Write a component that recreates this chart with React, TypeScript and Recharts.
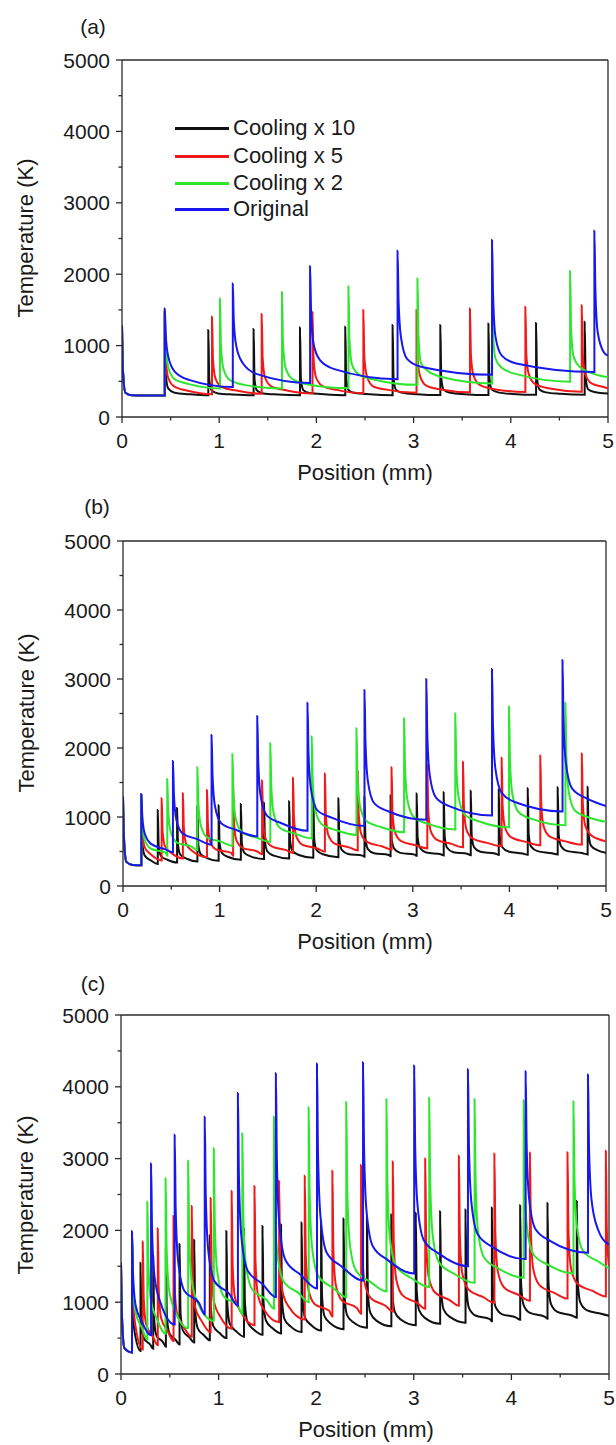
import React from 'react';
import { LineChart, Line, XAxis, YAxis, ReferenceLine } from 'recharts';

// ---------- data ----------
const X_TICKS = [0, 0.5, 1, 1.5, 2, 2.5, 3, 3.5, 4, 4.5, 5];
const X_LABELED = [0, 1, 2, 3, 4, 5];
const Y_TICKS = [0, 500, 1000, 1500, 2000, 2500, 3000, 3500, 4000, 4500, 5000];
const Y_LABELED = [0, 1000, 2000, 3000, 4000, 5000];
const X_MAX = 5;
const Y_MAX = 5000;

const SERIES_NAMES = ['Cooling x 10', 'Cooling x 5', 'Cooling x 2', 'Original'];
const PANEL_LETTERS = ['(a)', '(b)', '(c)'];
const X_TITLE = 'Position (mm)';
const Y_TITLE = 'Temperature (K)';

// distance (mm) after each spike at which the listed decay temperatures are read
const DECAY_OFFSETS = [0.01, 0.035, 0.1, 0.25];

// each spike: [position mm, peak K, decay values at DECAY_OFFSETS..., value just before next spike]
const START_A = [0, 1280, 650, 340, 305, 300, 300];
const BLACK_A = [
  [0.44, 1460, 600, 400, 340, 320, 305],
  [0.888, 1217, 520, 370, 330, 315, 305],
  [1.354, 1231, 520, 370, 330, 315, 305],
  [1.831, 1254, 530, 375, 335, 318, 305],
  [2.297, 1263, 530, 375, 335, 318, 306],
  [2.784, 1287, 540, 380, 340, 320, 307],
  [3.275, 1287, 540, 380, 340, 320, 308],
  [3.77, 1310, 550, 385, 345, 322, 310],
  [4.26, 1317, 550, 385, 345, 325, 312],
  [4.76, 1333, 560, 390, 350, 330, 328],
];
const RED_A = [
  [0.44, 1480, 840, 550, 425, 365, 320],
  [0.926, 1403, 810, 540, 420, 370, 325],
  [1.437, 1441, 830, 550, 430, 375, 330],
  [1.96, 1470, 845, 560, 437, 380, 335],
  [2.483, 1497, 850, 580, 430, 380, 340],
  [3.03, 1497, 850, 580, 440, 385, 345],
  [3.58, 1520, 860, 590, 450, 390, 350],
  [4.15, 1543, 870, 600, 460, 400, 355],
  [4.73, 1566, 880, 610, 470, 410, 400],
];
const GREEN_A = [
  [0.44, 1500, 1000, 700, 530, 460, 400],
  [1.008, 1660, 1000, 680, 520, 450, 400],
  [1.646, 1750, 1050, 700, 540, 460, 405],
  [2.33, 1830, 1100, 740, 600, 530, 450],
  [3.04, 1940, 1150, 760, 650, 560, 470],
  [3.807, 1990, 1200, 820, 690, 600, 495],
  [4.61, 2046, 1250, 850, 700, 600, 555],
];
const BLUE_A = [
  [0.44, 1520, 1150, 850, 640, 520, 420],
  [1.14, 1870, 1350, 1000, 760, 600, 475],
  [1.935, 2110, 1500, 1030, 800, 670, 530],
  [2.835, 2330, 1650, 1120, 810, 700, 590],
  [3.807, 2480, 1750, 1130, 860, 750, 630],
  [4.86, 2610, 1800, 1180, 900, 780, 860],
];

const START_B = [0, 1300, 700, 350, 305, 300, 300];
const BLACK_B = [
  [0.19, 1330, 620, 440, 370, 340, 320],
  [0.36, 1100, 570, 430, 380, 355, 340],
  [0.56, 1130, 590, 450, 395, 370, 355],
  [0.77, 1150, 600, 460, 405, 380, 365],
  [0.99, 1170, 620, 475, 420, 395, 380],
  [1.22, 1190, 630, 485, 430, 405, 390],
  [1.46, 1210, 645, 500, 440, 415, 400],
  [1.72, 1230, 655, 510, 450, 425, 410],
  [1.97, 1250, 670, 520, 460, 435, 418],
  [2.23, 1270, 680, 525, 465, 440, 425],
  [2.5, 1290, 690, 535, 475, 450, 432],
  [2.77, 1310, 700, 545, 480, 455, 438],
  [3.04, 1340, 710, 550, 485, 460, 442],
  [3.32, 1360, 720, 555, 490, 465, 446],
  [3.6, 1380, 730, 560, 495, 470, 450],
  [3.89, 1400, 735, 565, 500, 470, 452],
  [4.19, 1415, 745, 570, 505, 475, 455],
  [4.5, 1430, 750, 575, 505, 478, 458],
  [4.81, 1440, 760, 585, 520, 490, 480],
];
const RED_B = [
  [0.19, 1330, 800, 560, 455, 410, 370],
  [0.4, 1271, 790, 575, 480, 435, 400],
  [0.62, 1344, 835, 605, 505, 455, 420],
  [0.87, 1390, 870, 630, 525, 480, 440],
  [1.14, 1450, 905, 660, 550, 500, 460],
  [1.44, 1530, 950, 690, 575, 520, 480],
  [1.76, 1570, 980, 715, 595, 545, 500],
  [2.09, 1630, 1020, 740, 615, 560, 515],
  [2.43, 1670, 1045, 760, 635, 575, 530],
  [2.78, 1720, 1075, 780, 650, 590, 545],
  [3.15, 1760, 1100, 800, 670, 610, 560],
  [3.52, 1800, 1125, 820, 685, 625, 575],
  [3.92, 1860, 1160, 845, 705, 640, 590],
  [4.32, 1890, 1180, 860, 715, 650, 600],
  [4.75, 1920, 1200, 875, 730, 670, 650],
];
const GREEN_B = [
  [0.19, 1330, 930, 670, 540, 485, 440],
  [0.458, 1551, 1090, 790, 630, 570, 520],
  [0.77, 1720, 1210, 880, 705, 640, 580],
  [1.133, 1914, 1340, 970, 780, 700, 640],
  [1.525, 2068, 1450, 1050, 840, 760, 690],
  [1.954, 2165, 1520, 1110, 900, 810, 740],
  [2.417, 2285, 1610, 1170, 945, 855, 780],
  [2.91, 2430, 1710, 1240, 1000, 900, 820],
  [3.44, 2503, 1760, 1280, 1030, 935, 850],
  [3.996, 2600, 1830, 1330, 1070, 965, 880],
  [4.58, 2657, 1870, 1360, 1090, 990, 930],
];
const BLUE_B = [
  [0.19, 1330, 1000, 760, 610, 530, 490],
  [0.517, 1812, 1330, 960, 760, 680, 600],
  [0.917, 2189, 1600, 1160, 910, 815, 720],
  [1.39, 2464, 1800, 1300, 1020, 910, 800],
  [1.91, 2657, 1940, 1410, 1100, 990, 870],
  [2.5, 2841, 2090, 1520, 1200, 1080, 960],
  [3.14, 3000, 2210, 1610, 1280, 1150, 1020],
  [3.82, 3145, 2320, 1700, 1350, 1210, 1080],
  [4.55, 3276, 2420, 1780, 1410, 1270, 1160],
];

const START_C = [0, 1550, 800, 360, 305, 300, 300];
const BLACK_C = [
  [0.113, 1983, 820, 520, 400, 360, 320],
  [0.2, 1550, 710, 495, 410, 375, 350],
  [0.33, 1650, 760, 530, 445, 405, 380],
  [0.46, 1740, 810, 570, 475, 435, 410],
  [0.6, 1810, 850, 605, 510, 470, 440],
  [0.75, 1870, 890, 640, 540, 500, 470],
  [0.91, 1930, 930, 670, 570, 530, 500],
  [1.08, 1990, 960, 700, 595, 550, 520],
  [1.26, 2030, 990, 725, 620, 575, 545],
  [1.45, 2060, 1015, 745, 640, 595, 565],
  [1.64, 2085, 1035, 765, 660, 615, 585],
  [1.85, 2110, 1055, 785, 680, 635, 605],
  [2.05, 2140, 1080, 805, 700, 655, 625],
  [2.28, 2165, 1100, 825, 720, 675, 645],
  [2.52, 2190, 1125, 850, 740, 695, 665],
  [2.77, 2220, 1140, 865, 755, 710, 680],
  [3.02, 2245, 1165, 885, 775, 730, 700],
  [3.27, 2265, 1180, 900, 795, 745, 715],
  [3.53, 2290, 1200, 920, 815, 765, 735],
  [3.8, 2320, 1225, 945, 835, 785, 755],
  [4.09, 2350, 1245, 960, 850, 800, 770],
  [4.37, 2380, 1265, 975, 865, 815, 785],
  [4.67, 2410, 1290, 1000, 890, 840, 810],
];
const RED_C = [
  [0.113, 1983, 1080, 670, 490, 420, 340],
  [0.223, 1846, 1050, 690, 530, 460, 400],
  [0.377, 2030, 1165, 775, 600, 525, 460],
  [0.538, 2200, 1275, 855, 670, 590, 520],
  [0.725, 2340, 1370, 930, 740, 650, 580],
  [0.919, 2450, 1450, 995, 795, 705, 630],
  [1.134, 2550, 1520, 1055, 850, 755, 680],
  [1.368, 2620, 1575, 1100, 890, 795, 720],
  [1.62, 2690, 1630, 1145, 935, 840, 760],
  [1.883, 2760, 1680, 1190, 975, 880, 800],
  [2.166, 2830, 1735, 1240, 1020, 920, 840],
  [2.46, 2910, 1790, 1280, 1055, 950, 870],
  [2.785, 2960, 1835, 1320, 1095, 990, 910],
  [3.117, 3000, 1875, 1360, 1135, 1030, 950],
  [3.462, 3040, 1910, 1400, 1175, 1070, 990],
  [3.826, 3070, 1945, 1430, 1205, 1100, 1020],
  [4.19, 3085, 1965, 1455, 1235, 1130, 1050],
  [4.575, 3090, 1985, 1480, 1260, 1160, 1080],
  [4.968, 3110, 2000, 1500],
];
const GREEN_C = [
  [0.113, 1983, 1310, 870, 645, 555, 480],
  [0.27, 2400, 1570, 1040, 760, 650, 560],
  [0.457, 2726, 1790, 1180, 870, 745, 640],
  [0.688, 2971, 1970, 1320, 985, 850, 740],
  [0.951, 3143, 2100, 1430, 1085, 945, 830],
  [1.243, 3354, 2250, 1545, 1180, 1030, 910],
  [1.567, 3583, 2420, 1670, 1285, 1130, 1000],
  [1.923, 3714, 2525, 1760, 1360, 1200, 1070],
  [2.308, 3789, 2600, 1835, 1440, 1280, 1150],
  [2.72, 3829, 2650, 1890, 1500, 1340, 1210],
  [3.158, 3846, 2690, 1940, 1555, 1400, 1270],
  [3.623, 3829, 2710, 1990, 1615, 1465, 1340],
  [4.126, 3811, 2725, 2025, 1665, 1520, 1400],
  [4.636, 3800, 2740, 2060, 1710, 1570, 1470],
];
const BLUE_C = [
  [0.113, 1983, 1400, 970, 730, 635, 540],
  [0.308, 2931, 2030, 1360, 980, 835, 690],
  [0.55, 3331, 2330, 1580, 1155, 990, 830],
  [0.858, 3583, 2530, 1740, 1290, 1120, 950],
  [1.198, 3914, 2780, 1920, 1440, 1255, 1070],
  [1.587, 4189, 2990, 2090, 1580, 1385, 1190],
  [2.008, 4326, 3120, 2210, 1690, 1500, 1300],
  [2.48, 4343, 3170, 2280, 1780, 1590, 1400],
  [3.004, 4297, 3180, 2340, 1860, 1680, 1500],
  [3.555, 4246, 3190, 2390, 1945, 1770, 1600],
  [4.146, 4217, 3210, 2450, 2020, 1855, 1690],
  [4.785, 4171, 3180, 2440, 2020, 1900, 1800],
];

const PANEL_DATA = [
  { start: START_A, series: [BLACK_A, RED_A, GREEN_A, BLUE_A] },
  { start: START_B, series: [BLACK_B, RED_B, GREEN_B, BLUE_B] },
  { start: START_C, series: [BLACK_C, RED_C, GREEN_C, BLUE_C] },
];

// ---------- styles / layout ----------
const FONT = '"Liberation Sans", Arial, Helvetica, sans-serif';
const TEXT = '#1a1a1a';
const AXIS = '#2a2a2a';
const COLORS = ['#111111', '#f01a1a', '#2ee62e', '#1818ee'];

const LAYOUT = [
  { top: 0, height: 480, margin: { top: 60, right: 8, bottom: 23, left: 42 }, letter: [93, 26], xTitle: [365, 473], yTitle: [26, 238] },
  { top: 480, height: 480, margin: { top: 61, right: 10, bottom: 34, left: 43 }, letter: [97, 506], xTitle: [365, 942], yTitle: [27, 713] },
  { top: 960, height: 485, margin: { top: 55, right: 7, bottom: 31, left: 41 }, letter: [93, 983], xTitle: [366, 1430], yTitle: [26, 1195] },
];
const LEGEND = { lineX1: 175, lineX2: 229, textX: 233, rows: [128, 156, 183, 209] };

// ---------- helpers ----------
function buildSeries(start: number[], spikes: number[][]) {
  const all = [start, ...spikes];
  const pts: { x: number; t: number }[] = [];
  all.forEach((s, i) => {
    const x0 = s[0];
    const next = i + 1 < all.length ? all[i + 1][0] : X_MAX;
    pts.push({ x: x0, t: s[1] });
    s.slice(2, -1).forEach((v, j) => {
      const xo = x0 + DECAY_OFFSETS[j];
      if (xo < next - 0.015) pts.push({ x: +xo.toFixed(4), t: v });
    });
    pts.push({ x: next, t: s[s.length - 1] });
  });
  return pts;
}

const YTick = (props: any) => {
  const { x, y, payload } = props;
  const major = Y_LABELED.includes(payload.value);
  return (
    <g>
      <line x1={x} x2={x - (major ? 6 : 3.5)} y1={y} y2={y} stroke={AXIS} strokeWidth={1.3} />
      {major && (
        <text x={x - 12} y={y} dy="0.36em" textAnchor="end" fontSize={21} fontFamily={FONT} fill={TEXT}>
          {payload.value}
        </text>
      )}
    </g>
  );
};

const XTick = (props: any) => {
  const { x, y, payload } = props;
  const major = X_LABELED.includes(payload.value);
  return (
    <g>
      <line x1={x} x2={x} y1={y} y2={y + (major ? 6 : 3.5)} stroke={AXIS} strokeWidth={1.3} />
      {major && (
        <text x={x} y={y + 31} textAnchor="middle" fontSize={21} fontFamily={FONT} fill={TEXT}>
          {payload.value}
        </text>
      )}
    </g>
  );
};

const abs = (x: number, y: number, extra: React.CSSProperties = {}): React.CSSProperties => ({
  position: 'absolute',
  left: x,
  top: y,
  transform: 'translate(-50%, -50%)',
  whiteSpace: 'nowrap',
  fontFamily: FONT,
  color: TEXT,
  lineHeight: 1,
  ...extra,
});

function Panel({ idx }: { idx: number }) {
  const L = LAYOUT[idx];
  const D = PANEL_DATA[idx];
  return (
    <>
      <div style={{ position: 'absolute', left: 0, top: L.top }}>
        <LineChart width={616} height={L.height} margin={L.margin}>
          <XAxis
            type="number"
            dataKey="x"
            domain={[0, X_MAX]}
            ticks={X_TICKS}
            interval={0}
            height={40}
            tickSize={0}
            tickMargin={0}
            tickLine={false}
            tick={XTick}
            axisLine={{ stroke: AXIS, strokeWidth: 1.3 }}
            allowDataOverflow
          />
          <YAxis
            type="number"
            domain={[0, Y_MAX]}
            ticks={Y_TICKS}
            interval={0}
            width={80}
            tickSize={0}
            tickMargin={0}
            tickLine={false}
            tick={YTick}
            axisLine={{ stroke: AXIS, strokeWidth: 1.3 }}
            allowDataOverflow
          />
          <ReferenceLine y={Y_MAX} stroke={AXIS} strokeWidth={1.3} />
          <ReferenceLine x={X_MAX} stroke={AXIS} strokeWidth={1.3} />
          {D.series.map((s, i) => (
            <Line
              key={SERIES_NAMES[i]}
              name={SERIES_NAMES[i]}
              data={buildSeries(D.start, s)}
              dataKey="t"
              type="monotoneX"
              stroke={COLORS[i]}
              strokeWidth={2}
              dot={false}
              activeDot={false}
              isAnimationActive={false}
            />
          ))}
        </LineChart>
      </div>
      <div style={abs(L.letter[0], L.letter[1], { fontSize: 21 })}>{PANEL_LETTERS[idx]}</div>
      <div style={abs(L.xTitle[0], L.xTitle[1], { fontSize: 22 })}>{X_TITLE}</div>
      <div style={abs(L.yTitle[0], L.yTitle[1], { fontSize: 22, transform: 'translate(-50%, -50%) rotate(-90deg)' })}>
        {Y_TITLE}
      </div>
      {idx === 0 &&
        SERIES_NAMES.map((n, i) => (
          <React.Fragment key={n}>
            <div
              style={{
                position: 'absolute',
                left: LEGEND.lineX1,
                top: LEGEND.rows[i] - 1.5,
                width: LEGEND.lineX2 - LEGEND.lineX1,
                height: 3,
                background: COLORS[i],
              }}
            />
            <div style={{ ...abs(LEGEND.textX, LEGEND.rows[i], { fontSize: 22 }), transform: 'translate(0, -50%)' }}>{n}</div>
          </React.Fragment>
        ))}
    </>
  );
}

export default function App() {
  return (
    <div style={{ position: 'absolute', left: 0, top: 0, width: 616, height: 1445, overflow: 'hidden', background: '#fff' }}>
      <Panel idx={0} />
      <Panel idx={1} />
      <Panel idx={2} />
    </div>
  );
}
